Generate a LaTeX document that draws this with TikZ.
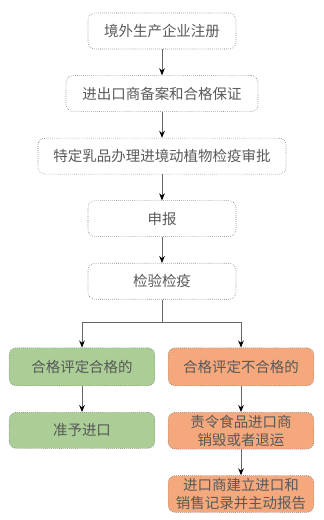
\documentclass[tikz,border=0pt]{standalone}
\usepackage{fontspec}
\setmainfont{Noto Sans CJK SC}
\usepackage{xcolor}
\definecolor{gris35}{gray}{.35}
\definecolor{gris40}{gray}{.40}
\definecolor{verde}{RGB}{170, 206, 150}
\definecolor{naranja}{RGB}{244, 168, 124}
\usepackage{tikz}
\usetikzlibrary{positioning,arrows.meta,calc}

\begin{document}
\begin{tikzpicture}[
    font=\fontsize{10.3}{12.5}\selectfont,
    node distance=6.5mm,
    paso/.style={rectangle, draw=gris40, densely dotted, rounded corners=5pt,
      text=gris35, minimum height=9mm, align=center, inner sep=2pt},
    apto/.style={paso, fill=verde, text width=35mm, minimum height=9.5mm},
    noapto/.style={paso, fill=naranja, text width=35mm},
    flecha/.style={draw=gris40, semithick, -{Stealth[length=5pt,width=4pt,color=black]}},
    >=Stealth
  ]
    \useasboundingbox (0,0) rectangle (8.075,13);
    \node[paso, minimum width=37mm] (reg) at (4.05,12.225) {境外生产企业注册};
    \node[paso, minimum width=48mm, below=of reg] (bei) {进出口商备案和合格保证};
    \node[paso, minimum width=62mm, below=of bei] (shen) {特定乳品办理进境动植物检疫审批};
    \node[paso, minimum width=37mm, below=of shen] (bao) {申报};
    \node[paso, minimum width=37mm, below=of bao] (jian) {检验检疫};
    \node[apto, below=12mm of jian, xshift=-20mm] (ok) {合格评定合格的};
    \node[noapto, minimum height=9.5mm, below=12mm of jian, xshift=19.75mm] (nok) {合格评定不合格的};
    \node[apto, minimum height=9mm, below=of ok] (pass) {准予进口};
    \node[noapto, below=of nok] (ret) {责令食品进口商\\销毁或者退运};
    \node[noapto, below=of ret] (rep) {进口商建立进口和\\销售记录并主动报告};

    \draw[flecha] (reg) -- (bei);
    \draw[flecha] (bei) -- (shen);
    \draw[flecha] (shen) -- (bao);
    \draw[flecha] (bao) -- (jian);
    \coordinate (rama) at ($(jian.south)+(0,-5.75mm)$);
    \draw[draw=gris40, semithick] (jian.south) -- (rama);
    \draw[flecha] (rama) -| (ok.north);
    \draw[flecha] (rama) -| (nok.north);
    \draw[flecha] (ok) -- (pass);
    \draw[flecha] (nok) -- (ret);
    \draw[flecha] (ret) -- (rep);
  \end{tikzpicture}
\end{document}
